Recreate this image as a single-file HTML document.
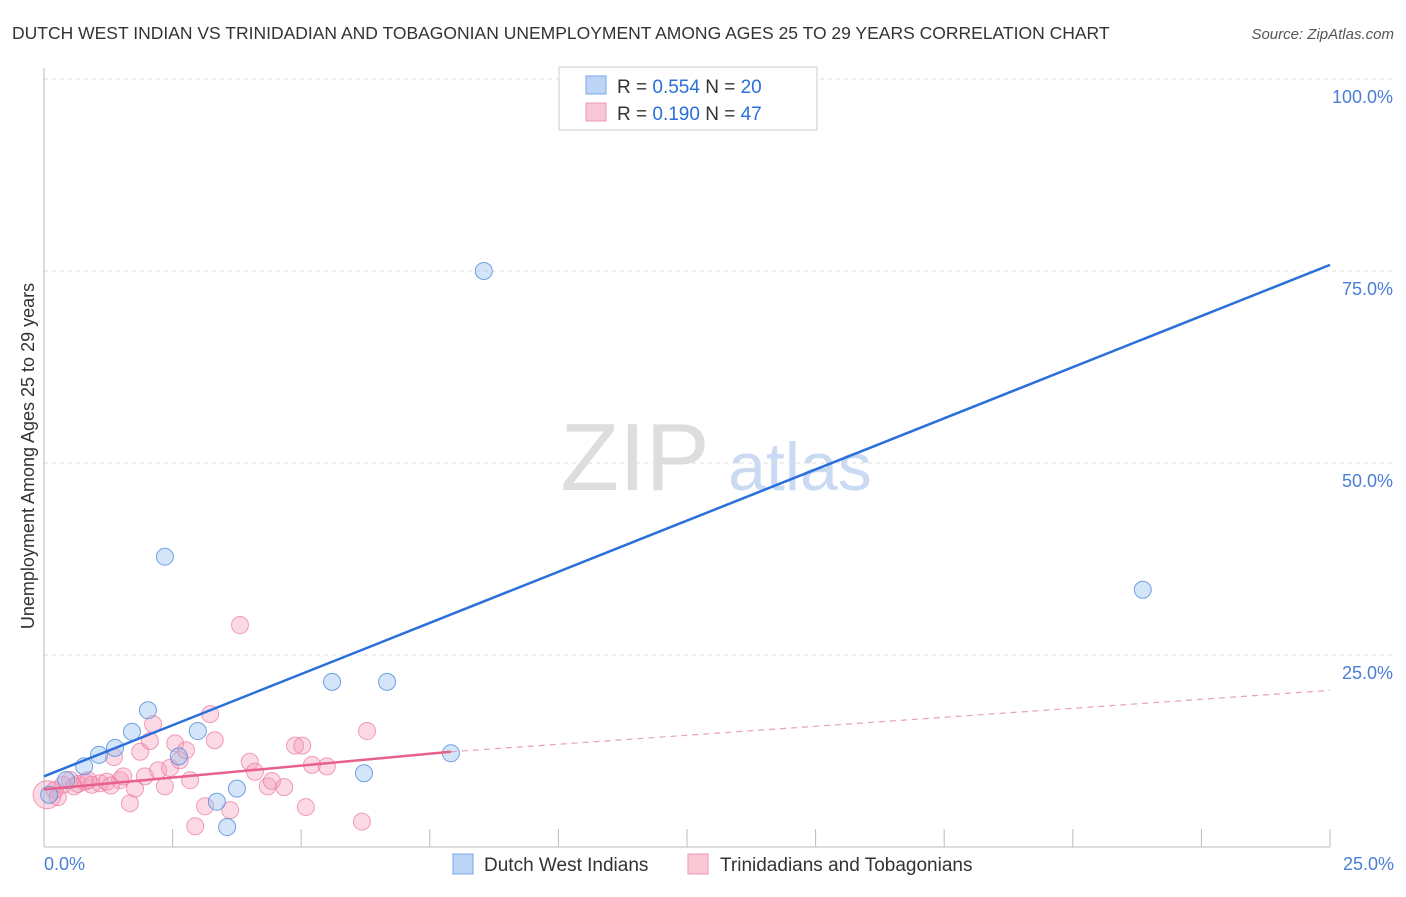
<!DOCTYPE html>
<html><head><meta charset="utf-8"><style>
body{margin:0;background:#fff;font-family:"Liberation Sans",sans-serif;}
svg text{font-family:"Liberation Sans",sans-serif;}
</style></head><body>
<svg id="c" width="1406" height="892">
<text x="12" y="39" font-size="17.5" fill="#333">DUTCH WEST INDIAN VS TRINIDADIAN AND TOBAGONIAN UNEMPLOYMENT AMONG AGES 25 TO 29 YEARS CORRELATION CHART</text>
<text x="1394" y="39" font-size="15" fill="#555" font-style="italic" text-anchor="end">Source: ZipAtlas.com</text>
<text x="635" y="490" font-size="96" fill="#ddd" font-family="Liberation Serif" text-anchor="middle">ZIP</text>
<text x="800" y="490" font-size="68" fill="#c9daf2" text-anchor="middle">atlas</text>
<text transform="translate(34,456) rotate(-90)" font-size="18" fill="#333" text-anchor="middle">Unemployment Among Ages 25 to 29 years</text>
<g id="grid"></g><g id="pts"></g><g id="lines"></g>
<g>
<rect x="559" y="67" width="258" height="63" fill="#fff" stroke="#ccc"/>
<rect x="586" y="76" width="20" height="18" fill="#bcd4f6" stroke="#7aa6e8"/>
<rect x="586" y="103" width="20" height="18" fill="#f9c7d6" stroke="#ec9ab4"/>
<text x="617" y="93" font-size="19" fill="#333">R = <tspan fill="#2a6fdb">0.554</tspan>   N = <tspan fill="#2a6fdb">20</tspan></text>
<text x="617" y="120" font-size="19" fill="#333">R =  <tspan fill="#2a6fdb">0.190</tspan>   N = <tspan fill="#2a6fdb">47</tspan></text>
</g>
<g>
<rect x="453" y="854" width="20" height="20" fill="#bcd4f6" stroke="#7aa6e8"/>
<text x="484" y="871" font-size="19" fill="#333">Dutch West Indians</text>
<rect x="688" y="854" width="20" height="20" fill="#f9c7d6" stroke="#ec9ab4"/>
<text x="720" y="871" font-size="19" fill="#333">Trinidadians and Tobagonians</text>
</g>
<text x="44" y="870" font-size="18" fill="#4a7fd6">0.0%</text>
<text x="1394" y="870" font-size="18" fill="#4a7fd6" text-anchor="end">25.0%</text>
</svg>
<script>
const yTicks=[100,75,50,25];
const yTickLabels=["100.0%","75.0%","50.0%","25.0%"];
const xTicks=[0,2.5,5,7.5,10,12.5,15,17.5,20,22.5,25];
const blueX=[0.10,0.43,0.78,1.07,1.38,1.71,2.02,2.35,2.62,2.99,3.36,3.75,3.56,5.60,6.67,6.22,7.91,8.55,21.36,12.77];
const blueY=[6.8,8.7,10.5,12.0,12.9,15.0,17.8,37.8,11.8,15.1,5.9,7.6,2.6,21.5,21.5,9.6,12.2,75.0,33.5,100];
const pinkX=[0.06,0.21,0.37,0.51,0.66,0.80,0.93,1.09,1.22,1.36,1.48,1.54,1.67,1.77,1.87,1.96,2.06,2.12,2.22,2.35,2.45,2.55,2.64,2.76,2.84,2.94,3.13,3.23,3.32,3.62,3.81,4.00,4.10,4.35,4.43,4.67,4.88,5.02,5.09,5.21,5.50,6.18,6.28,0.27,0.58,0.86,1.30];
const pinkY=[6.8,7.4,8.1,8.7,8.2,8.5,8.1,8.3,8.5,11.7,8.7,9.2,5.7,7.6,12.4,9.2,13.8,16.0,10.0,7.9,10.3,13.5,11.3,12.6,8.7,2.7,5.3,17.3,13.9,4.8,28.9,11.1,9.8,7.9,8.6,7.8,13.2,13.2,5.2,10.7,10.5,3.3,15.1,6.5,7.9,8.7,8.0];
const blueLine=[[0,9.2],[25,75.8]];
const pinkLine=[[0,7.5],[7.91,12.4],[25,20.4]];
const X=v=>44+v*51.44, Y=v=>847-v*7.68;
const NS="http://www.w3.org/2000/svg";
function mk(t,a,p){const e=document.createElementNS(NS,t);for(const k in a)e.setAttribute(k,a[k]);p.appendChild(e);return e;}
const g=document.getElementById('grid');
yTicks.forEach((t,i)=>{
 const l=mk('line',{x1:44,x2:1394,y1:Y(t),y2:Y(t),stroke:'#ddd','stroke-dasharray':'4,4'},g);
 
 
 const tx=mk('text',{x:1393,y:Y(t)+24,'font-size':18,fill:'#4a7fd6','text-anchor':'end'},g);
 tx.textContent=yTickLabels[i];
 
 
});
const ax=mk('line',{x1:44,x2:44,y1:68,y2:847,stroke:'#bbb'},g);


const bx=mk('line',{x1:44,x2:1330,y1:847,y2:847,stroke:'#bbb'},g);


xTicks.forEach(t=>{if(t===0)return;
 const l=mk('line',{x1:X(t),x2:X(t),y1:829,y2:847,stroke:'#bbb'},g);
 
 
});
const p=document.getElementById('pts');
pinkX.forEach((x,i)=>{
 const c=mk('circle',{cx:X(x),cy:Y(pinkY[i]),r:i===0?14:8.5,fill:'rgba(244,150,180,0.35)',stroke:'rgba(236,120,160,0.7)','stroke-width':1},p);
 
 
});
blueX.forEach((x,i)=>{
 const c=mk('circle',{cx:X(x),cy:Y(blueY[i]),r:8.5,fill:'rgba(150,190,240,0.4)',stroke:'rgba(80,140,220,0.8)','stroke-width':1},p);
 
 
});
const L=document.getElementById('lines');
const b=mk('line',{x1:X(blueLine[0][0]),y1:Y(blueLine[0][1]),x2:X(blueLine[1][0]),y2:Y(blueLine[1][1]),stroke:'#2a6fdb','stroke-width':2.5},L);


const ps=mk('line',{x1:X(pinkLine[0][0]),y1:Y(pinkLine[0][1]),x2:X(pinkLine[1][0]),y2:Y(pinkLine[1][1]),stroke:'#e8608e','stroke-width':2.5},L);


const pd=mk('line',{x1:X(pinkLine[1][0]),y1:Y(pinkLine[1][1]),x2:X(pinkLine[2][0]),y2:Y(pinkLine[2][1]),stroke:'#e8a0b8','stroke-width':1.2,'stroke-dasharray':'6,5'},L);


</script>
</body></html>
